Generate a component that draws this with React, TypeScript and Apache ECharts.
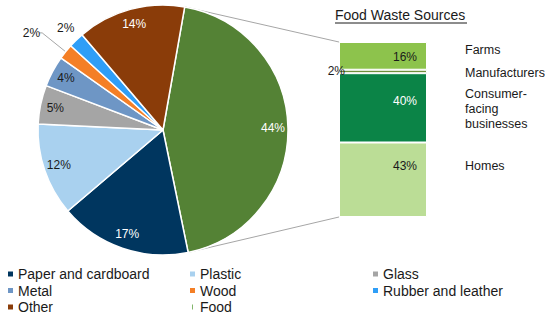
import React, { useEffect, useRef } from 'react';
import * as echarts from 'echarts';

// ---- Data ----
const wasteCategories = ['Food', 'Paper and cardboard', 'Plastic', 'Glass', 'Metal', 'Wood', 'Rubber and leather', 'Other'];
const wasteValues = [44, 17, 12, 5, 4, 2, 2, 14];
const wasteColors = ['#548235', '#00365F', '#A9D1EF', '#A5A5A5', '#6E96C5', '#F47F26', '#2F9EF7', '#8A3C09'];
const wasteLabelColors = ['#ffffff', '#ffffff', '#1a1a1a', '#1a1a1a', '#1a1a1a', '#1a1a1a', '#1a1a1a', '#ffffff'];

const foodCategories = ['Homes', 'Consumer-\nfacing\nbusinesses', 'Manufacturers', 'Farms'];
const foodValues = [43, 40, 2, 16];
const foodColors = ['#BBDD96', '#0B8447', '#6F8F3B', '#8DC34C'];
const foodLabelColors = ['#1a1a1a', '#ffffff', '#1a1a1a', '#1a1a1a'];

const legendColumns = [
  ['Paper and cardboard', 'Metal', 'Other'],
  ['Plastic', 'Wood', 'Food'],
  ['Glass', 'Rubber and leather'],
];

const titleText = 'Food Waste Sources';

// ---- Layout / style ----
const PIE_CENTER = [163, 130];
const PIE_R = 125;
const START_ANGLE = 80;
const GRID = { left: 339, top: 42, width: 88, height: 175 };
const legendLefts = [8, 190, 373];
const valueLabelOffsets = [[0, -14], [0, -7], [0, 0], [0, 1]];
const nameLabelOffsets = [[0, -14], [0, 1], [0, 1.5], [0, -6]];
const FONT = 'Liberation Sans, Arial, Helvetica, sans-serif';

export default function App() {
  const ref = useRef<HTMLDivElement>(null);

  useEffect(() => {
    if (!ref.current) return;
    const chart = echarts.init(ref.current, undefined, { renderer: 'svg' });
    const foodTotal = foodValues.reduce((a, b) => a + b, 0);
    const wasteTotal = wasteValues.reduce((a, b) => a + b, 0);

    const overlayData = wasteCategories.map((name, i) => {
      const item: any = {
        name,
        value: wasteValues[i],
        label: { color: wasteLabelColors[i] },
      };
      if (name === 'Wood') {
        item.label = { position: 'outside', color: '#1a1a1a', distanceToLabelLine: -1 };
        item.labelLine = { show: true, length: 30, length2: 3, lineStyle: { color: '#A6A6A6', width: 1 } };
      }
      if (name === 'Rubber and leather') {
        item.label = { position: 'outside', color: '#1a1a1a', distanceToLabelLine: -10 };
        item.labelLine = { show: false, length: 17, length2: 0 };
      }
      return item;
    });

    const option: any = {
      animation: false,
      textStyle: { fontFamily: FONT },
      title: {
        text: titleText,
        left: 335,
        top: 8,
        padding: 0,
        textStyle: { fontSize: 14, fontWeight: 'normal', color: '#1a1a1a', fontFamily: FONT },
      },
      legend: legendColumns.map((col, i) => ({
        orient: 'vertical',
        left: legendLefts[i],
        top: 267,
        padding: 0,
        itemWidth: 5,
        itemHeight: 5,
        itemGap: 2.5,
        icon: 'rect',
        selectedMode: false,
        itemStyle: { borderWidth: 0 },
        textStyle: { fontSize: 14, color: '#1a1a1a', fontFamily: FONT },
        data: col.map((n) =>
          n === 'Food'
            ? { name: n, icon: 'path://M0,0H1V6H0Z', itemStyle: { color: '#6AA84F', borderWidth: 0 } }
            : n
        ),
      })),
      grid: { left: GRID.left, top: GRID.top, width: GRID.width, height: GRID.height },
      xAxis: { type: 'category', data: ['Food'], show: false },
      yAxis: { type: 'value', min: 0, max: foodTotal, show: false },
      series: [
        {
          type: 'pie',
          center: PIE_CENTER,
          radius: [0, PIE_R],
          startAngle: START_ANGLE,
          clockwise: true,
          silent: true,
          label: { show: false },
          labelLine: { show: false },
          itemStyle: { borderColor: '#ffffff', borderWidth: 1.5 },
          data: wasteCategories.map((name, i) => ({
            name,
            value: wasteValues[i],
            itemStyle: { color: wasteColors[i] },
          })),
        },
        {
          type: 'pie',
          center: PIE_CENTER,
          radius: [89, PIE_R],
          startAngle: START_ANGLE,
          clockwise: true,
          silent: true,
          avoidLabelOverlap: false,
          itemStyle: { color: 'rgba(0,0,0,0)' },
          label: { show: true, position: 'inside', formatter: '{c}%', fontSize: 12, fontFamily: FONT },
          labelLine: { show: false },
          data: overlayData,
        },
        ...foodCategories.map((name, i) => ({
          type: 'bar',
          name,
          stack: 'values',
          barWidth: '100%',
          barGap: '-100%',
          silent: true,
          itemStyle: { color: foodColors[i], borderColor: '#ffffff', borderWidth: 1 },
          label: {
            show: true,
            formatter: '{c}%',
            position: name === 'Manufacturers' ? 'left' : 'insideRight',
            distance: name === 'Manufacturers' ? -6 : 10,
            offset: valueLabelOffsets[i],
            fontSize: 12,
            color: foodLabelColors[i],
            fontFamily: FONT,
          },
          data: [foodValues[i]],
        })),
        ...foodCategories.map((name, i) => ({
          type: 'bar',
          name: name + ' ',
          stack: 'names',
          barWidth: '100%',
          barGap: '-100%',
          silent: true,
          itemStyle: { color: 'rgba(0,0,0,0)' },
          label: {
            show: true,
            formatter: name,
            position: 'right',
            distance: 38,
            offset: nameLabelOffsets[i],
            fontSize: 12.5,
            lineHeight: 15,
            align: 'left',
            color: '#1a1a1a',
            fontFamily: FONT,
          },
          data: [foodValues[i]],
        })),
      ],
    };

    chart.setOption(option);

    // Connector lines from the Food slice edges to the bar corners
    const toRad = Math.PI / 180;
    const a0 = (90 - START_ANGLE) * toRad;
    const a1 = a0 + (360 * wasteValues[0] / wasteTotal) * toRad;
    const p0 = [PIE_CENTER[0] + PIE_R * Math.sin(a0), PIE_CENTER[1] - PIE_R * Math.cos(a0)];
    const p1 = [PIE_CENTER[0] + PIE_R * Math.sin(a1), PIE_CENTER[1] - PIE_R * Math.cos(a1)];
    const yTop = chart.convertToPixel({ yAxisIndex: 0 }, foodTotal) as number;
    const yBot = chart.convertToPixel({ yAxisIndex: 0 }, 0) as number;
    const xMid = chart.convertToPixel({ xAxisIndex: 0 }, 'Food') as number;
    const xLeft = xMid - GRID.width / 2;

    chart.setOption({
      graphic: [
        {
          type: 'line',
          shape: { x1: p0[0], y1: p0[1], x2: xLeft, y2: yTop },
          style: { stroke: '#A6A6A6', lineWidth: 1 },
          silent: true,
        },
        {
          type: 'line',
          shape: { x1: p1[0], y1: p1[1], x2: xLeft, y2: yBot },
          style: { stroke: '#A6A6A6', lineWidth: 1 },
          silent: true,
        },
        {
          type: 'line',
          shape: { x1: 335, y1: 23, x2: 467, y2: 23 },
          style: { stroke: '#1a1a1a', lineWidth: 1 },
          silent: true,
        },
      ],
    });

    return () => chart.dispose();
  }, []);

  return (
    <div
      ref={ref}
      style={{ position: 'fixed', left: 0, top: 0, width: 545, height: 317, background: '#ffffff' }}
    />
  );
}
